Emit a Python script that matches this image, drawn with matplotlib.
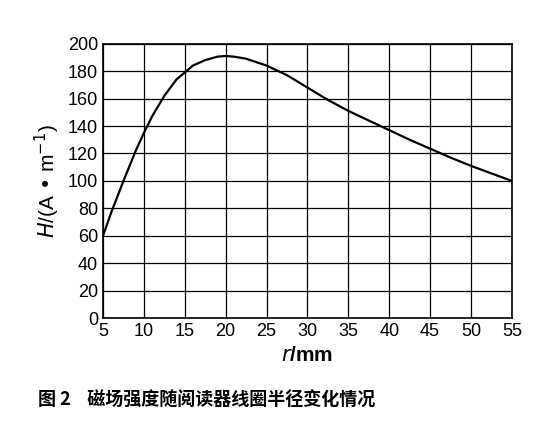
import matplotlib
matplotlib.use("Agg")
import matplotlib.pyplot as plt

plt.rcParams['font.family'] = ['Liberation Sans', 'Noto Sans CJK SC', 'DejaVu Sans']

r = [5, 6, 7.5, 9, 10, 11, 12.5, 14, 15, 16, 17.5, 19, 20, 21, 22.5, 25, 27.5, 30, 32.5,
     35, 37.5, 40, 42.5, 45, 47.5, 50, 52.5, 55]
H = [60, 77, 100, 122, 135, 147, 162, 174, 179, 184, 188, 190.5, 191, 190.5, 189, 184, 177, 168, 159,
     151, 144, 137, 130, 123.5, 117, 111, 105.5, 100]
xticks = list(range(5, 60, 5))
yticks = list(range(0, 220, 20))

fig = plt.figure(figsize=(5.48, 4.36), dpi=100)
ax = fig.add_axes([0.188, 0.27, 0.746, 0.63])
ax.plot(r, H, color="black", lw=1.6)
ax.set_xlim(5, 55)
ax.set_ylim(0, 200)
ax.set_xticks(xticks)
ax.set_yticks(yticks)
ax.grid(True, color="black", lw=0.9)
ax.tick_params(labelsize=13, length=0)
for s in ax.spines.values():
    s.set_linewidth(1.2)
ax.set_xlabel("$r$/mm", fontsize=15, fontweight="bold")
ax.set_ylabel("$H$/(A • m$^{-1}$)", fontsize=15)
fig.text(0.07, 0.07, "图 2    磁场强度随阅读器线圈半径变化情况", fontsize=13,
         fontweight="bold", family=['Noto Sans CJK SC', 'DejaVu Sans'])
fig.savefig("out.png")
